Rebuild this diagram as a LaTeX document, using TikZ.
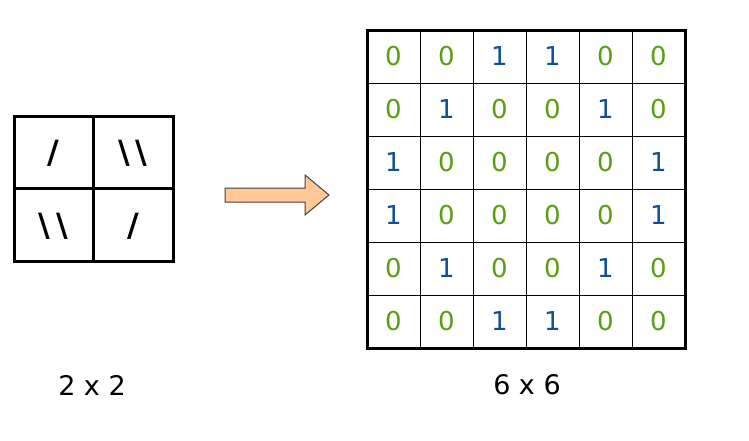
\documentclass[tikz,border=0pt]{standalone}
\usepackage{fontspec}
\setmainfont{DejaVu Sans}
\definecolor{bitgreen}{HTML}{5A9E12}
\definecolor{bitblue}{HTML}{0E4F98}
\definecolor{arrowfill}{HTML}{FFC896}
\tikzset{
  bit0/.style={text=bitgreen, font=\fontsize{26}{26}\selectfont},
  bit1/.style={text=bitblue, font=\fontsize{26}{26}\selectfont},
  slash/.style={font=\fontsize{32}{32}\selectfont\bfseries},
  size/.style={font=\fontsize{27}{27}\selectfont}
}
\begin{document}
\begin{tikzpicture}[x=1pt, y=-1pt]
    \useasboundingbox (0,0) rectangle (749,440);
    % Kleines Muster 2x2
    \draw[line width=3pt] (14,116) rectangle (173,261);
    \draw[line width=3pt] (93,116) -- (93,261) (14,188) -- (173,188);
    \node[slash] (s-1-1) at (53.5,153) {/};
    \node[slash] (s-1-2) at (133,153) {\textbackslash\kern6pt\textbackslash};
    \node[slash] (s-2-1) at (53.5,226) {\textbackslash\kern6pt\textbackslash};
    \node[slash] (s-2-2) at (133,226) {/};
    \node[size] (small) at (92,385) {2 x 2};
    % Pfeil
    \draw[draw=black!75, line width=1pt, fill=arrowfill]
        (225,188) -- (305,188) -- (305,175) -- (329,195) -- (305,215)
        -- (305,202) -- (225,202) -- cycle;
    % Grosses Muster 6x6
    \foreach \i in {1,...,5} {
        \draw[line width=1pt] (367+53*\i,30) -- (367+53*\i,348);
        \draw[line width=1pt] (367,30+53*\i) -- (685,30+53*\i);
    }
    \draw[line width=3pt] (367,30) rectangle (685,348);
    \foreach \row [count=\r] in {{0,0,1,1,0,0},{0,1,0,0,1,0},{1,0,0,0,0,1},
                                 {1,0,0,0,0,1},{0,1,0,0,1,0},{0,0,1,1,0,0}} {
        \foreach \v [count=\c] in \row {
            \node[bit\v] (m-\r-\c) at (340.5+53*\c,3.5+53*\r) {\v};
        }
    }
    \node[size] (big) at (527,385) {6 x 6};
\end{tikzpicture}
\end{document}
